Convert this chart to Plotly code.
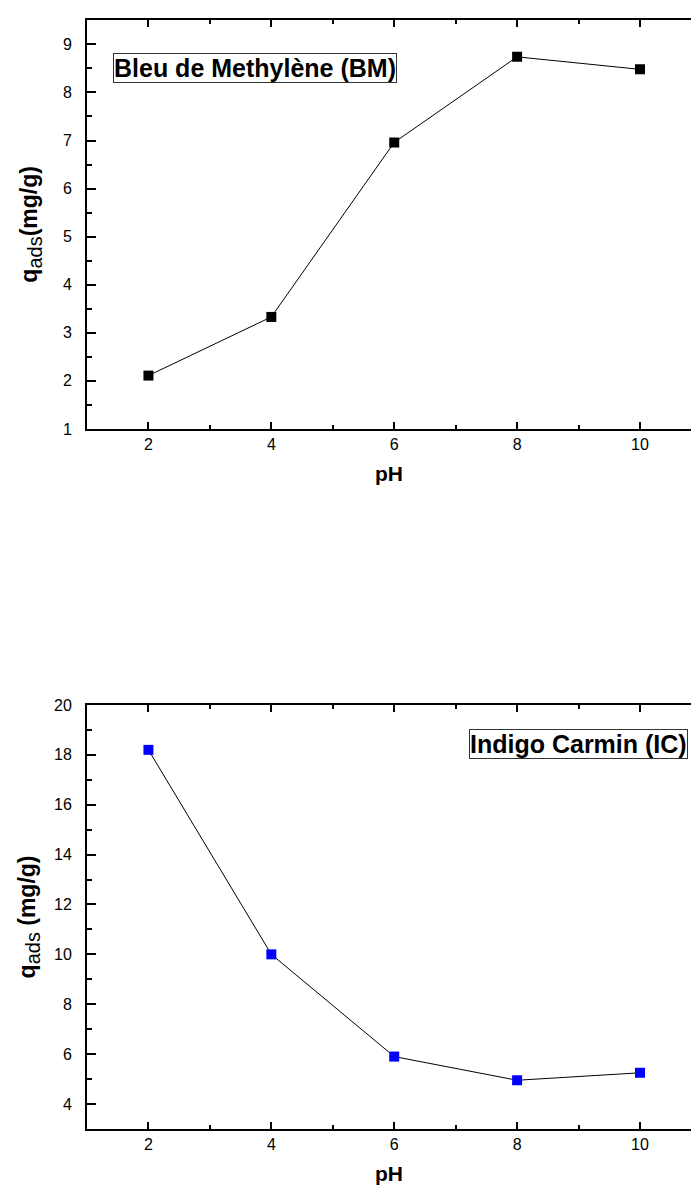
import plotly.graph_objects as go

# pH values and adsorbed quantities (mg/g) for the two dyes
ph = [2, 4, 6, 8, 10]
q_bm = [2.11, 3.33, 6.96, 8.74, 8.48]
q_ic = [18.2, 10.0, 5.9, 4.95, 5.25]

x_ticks = [2, 4, 6, 8, 10]
bm_ticks = [1, 2, 3, 4, 5, 6, 7, 8, 9]
ic_ticks = [4, 6, 8, 10, 12, 14, 16, 18, 20]

W, H = 691, 1200
LEFT = 87
FONT = "Liberation Sans, Arial, sans-serif"


def vdom(top_px, bottom_px):
    return [1 - bottom_px / H, 1 - top_px / H]


def px_x(px):
    return (px - LEFT) / (W - LEFT)


def px_y(py):
    return 1 - py / H


fig = go.Figure()

fig.add_trace(go.Scatter(
    x=ph, y=q_bm, mode="lines+markers", xaxis="x", yaxis="y",
    line=dict(color="black", width=1),
    marker=dict(symbol="square", size=10, color="black"),
    showlegend=False,
))
fig.add_trace(go.Scatter(
    x=ph, y=q_ic, mode="lines+markers", xaxis="x2", yaxis="y2",
    line=dict(color="black", width=1),
    marker=dict(symbol="square", size=10, color="#0000ff"),
    showlegend=False,
))

common_x = dict(
    range=[1, 10.83], tickvals=x_ticks, ticks="inside", ticklen=7, tickwidth=1.5,
    tickcolor="black", showline=True, linecolor="black", linewidth=2,
    mirror="allticks", showgrid=False, zeroline=False,
    minor=dict(dtick=1, tick0=1, ticks="inside", ticklen=4, tickwidth=1.5, tickcolor="black", showgrid=False),
    tickfont=dict(family=FONT, size=16, color="black"),
    title=dict(text="<b>pH</b>", font=dict(family=FONT, size=21, color="black"), standoff=14),
)
common_y = dict(
    ticks="inside", ticklen=9, tickwidth=1.5, tickcolor="black",
    showline=True, linecolor="black", linewidth=2, mirror=False,
    showgrid=False, zeroline=False, ticklabelstandoff=10,
    tickfont=dict(family=FONT, size=16, color="black"),
)

SUB = '<sub><span style="font-size:20px">ads</span></sub>'

fig.update_layout(
    width=W, height=H,
    margin=dict(l=LEFT, r=0, t=0, b=0),
    paper_bgcolor="white", plot_bgcolor="white",
    font=dict(family=FONT, color="black"),
    xaxis=dict(domain=[0, 1], anchor="y", **common_x),
    yaxis=dict(
        domain=vdom(12, 427), anchor="x", range=[1, 9.51], tickvals=bm_ticks,
        minor=dict(dtick=0.5, tick0=1, ticks="inside", ticklen=5, tickwidth=1.5, tickcolor="black", showgrid=False),
        title=dict(text="<b>q</b>" + SUB + "<b>(mg/g)</b>",
                   font=dict(family=FONT, size=23, color="black"), standoff=19),
        **common_y,
    ),
    xaxis2=dict(domain=[0, 1], anchor="y2", **common_x),
    yaxis2=dict(
        domain=vdom(707, 1137), anchor="x2", range=[3, 20], tickvals=ic_ticks,
        minor=dict(dtick=1, tick0=3, ticks="inside", ticklen=5, tickwidth=1.5, tickcolor="black", showgrid=False),
        title=dict(text="<b>q</b>" + SUB + "<b> (mg/g)</b>",
                   font=dict(family=FONT, size=23, color="black"), standoff=12),
        **common_y,
    ),
)

box_style = dict(
    xref="paper", yref="paper", showarrow=False,
    bordercolor="#333333", borderwidth=1, borderpad=0, bgcolor="white",
    font=dict(family=FONT, size=25, color="black"),
)
fig.add_annotation(text="<b>Bleu de Methylène (BM)</b>", x=px_x(113), y=px_y(61),
                   xanchor="left", yanchor="middle", **box_style)
fig.add_annotation(text="<b>Indigo Carmin (IC)</b>", x=px_x(688), y=px_y(747),
                   xanchor="right", yanchor="middle", **box_style)

fig.write_html("out.html")
